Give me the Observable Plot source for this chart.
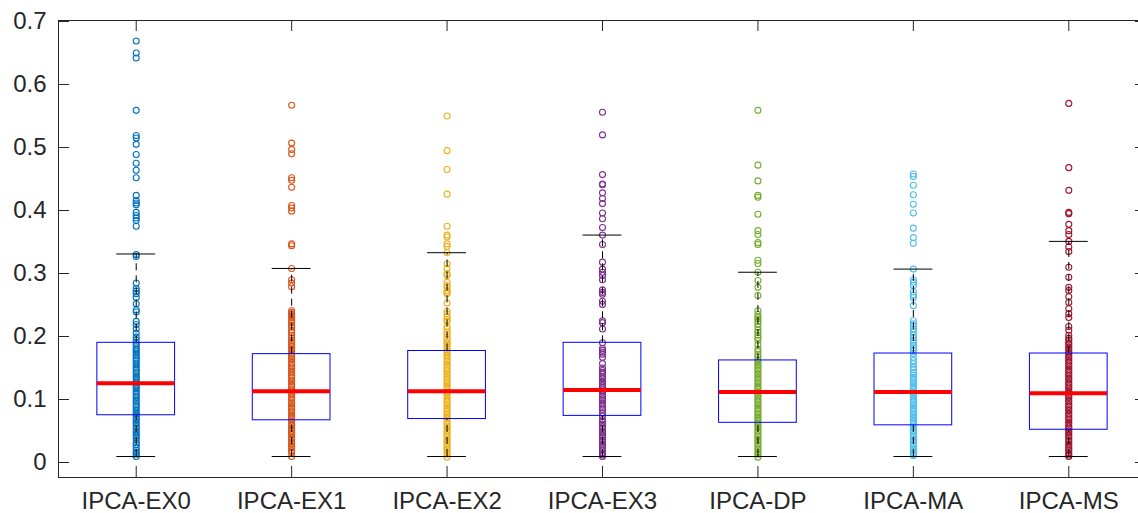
<!DOCTYPE html>
<html><head><meta charset="utf-8">
<script src="https://cdn.jsdelivr.net/npm/d3@7"></script>
<script src="https://cdn.jsdelivr.net/npm/@observablehq/plot@0.6"></script>
<style>body{margin:0;background:#fff;overflow:hidden} svg{display:block}</style>
</head><body><div id="chart"></div>
<script>
const names = ["IPCA-EX0","IPCA-EX1","IPCA-EX2","IPCA-EX3","IPCA-DP","IPCA-MA","IPCA-MS"];
const colors = ["#0072BD","#D95319","#EDB120","#7E2F8E","#77AC30","#4DBEEE","#A2142F"];
const median = [0.126, 0.113, 0.113, 0.115, 0.112, 0.112, 0.110];
const q1 = [0.075, 0.067, 0.069, 0.074, 0.063, 0.059, 0.052];
const q3 = [0.190, 0.172, 0.177, 0.190, 0.162, 0.173, 0.173];
const whiskerHi = [0.331, 0.308, 0.333, 0.361, 0.302, 0.307, 0.351];
const whiskerLo = [0.0095, 0.0095, 0.0095, 0.0095, 0.0095, 0.0095, 0.0095];
const yTicks = [0, 0.1, 0.2, 0.3, 0.4, 0.5, 0.6, 0.7];
const yTickLabels = ["0","0.1","0.2","0.3","0.4","0.5","0.6","0.7"];
const xTicks = [1, 2, 3, 4, 5, 6, 7];

const ex0 = [0.669,0.650,0.642,0.559,0.519,0.515,0.505,0.489,0.475,0.464,0.452,0.424,0.416,0.412,0.409,0.397,0.392,0.388,0.384,0.375,0.330,0.327,0.285,0.276,0.272,0.268,0.262,0.252,0.242,0.239,0.224,0.219,0.212,0.205,0.199,0.194,0.189,0.186,0.182,0.179,0.176,0.172,0.169,0.165,0.162,0.158,0.155,0.151,0.148,0.144,0.141,0.137,0.134,0.130,0.127,0.124,0.120,0.117,0.113,0.110,0.106,0.103,0.099,0.096,0.092,0.089,0.085,0.082,0.078,0.075,0.071,0.068,0.064,0.061,0.057,0.054,0.050,0.047,0.043,0.040,0.036,0.031,0.028,0.024,0.019,0.016,0.013,0.0095];
const ex1 = [0.567,0.507,0.497,0.490,0.452,0.448,0.437,0.408,0.404,0.399,0.347,0.344,0.308,0.290,0.285,0.279,0.241,0.238,0.236,0.233,0.230,0.226,0.222,0.218,0.215,0.210,0.206,0.202,0.198,0.194,0.191,0.187,0.184,0.180,0.177,0.173,0.170,0.166,0.163,0.159,0.156,0.152,0.149,0.145,0.142,0.138,0.135,0.131,0.128,0.124,0.121,0.117,0.114,0.110,0.107,0.103,0.100,0.096,0.093,0.089,0.086,0.082,0.079,0.075,0.072,0.068,0.065,0.061,0.058,0.054,0.051,0.047,0.044,0.040,0.037,0.033,0.030,0.026,0.023,0.019,0.016,0.0095];
const ex2 = [0.550,0.495,0.465,0.426,0.375,0.361,0.358,0.347,0.343,0.333,0.315,0.308,0.300,0.297,0.286,0.281,0.278,0.273,0.270,0.268,0.253,0.240,0.236,0.231,0.227,0.224,0.216,0.212,0.207,0.204,0.199,0.195,0.191,0.188,0.184,0.181,0.177,0.174,0.170,0.167,0.163,0.160,0.156,0.153,0.149,0.146,0.142,0.139,0.135,0.132,0.128,0.125,0.121,0.118,0.114,0.111,0.107,0.104,0.100,0.097,0.093,0.090,0.086,0.083,0.079,0.076,0.072,0.069,0.065,0.062,0.058,0.055,0.051,0.048,0.044,0.041,0.037,0.034,0.030,0.027,0.023,0.020,0.016,0.013,0.0085];
const ex3 = [0.556,0.520,0.457,0.442,0.441,0.428,0.419,0.411,0.396,0.387,0.373,0.361,0.346,0.318,0.307,0.302,0.297,0.290,0.274,0.270,0.267,0.256,0.251,0.225,0.222,0.212,0.190,0.181,0.178,0.175,0.172,0.167,0.157,0.150,0.146,0.143,0.140,0.136,0.133,0.129,0.126,0.122,0.119,0.115,0.112,0.108,0.105,0.101,0.098,0.094,0.091,0.087,0.084,0.079,0.074,0.068,0.064,0.061,0.057,0.054,0.050,0.047,0.043,0.040,0.036,0.033,0.029,0.026,0.022,0.019,0.015,0.012,0.0095];
const dp = [0.559,0.472,0.447,0.424,0.421,0.394,0.368,0.362,0.349,0.346,0.321,0.316,0.302,0.289,0.278,0.265,0.241,0.235,0.231,0.228,0.224,0.220,0.215,0.210,0.206,0.202,0.198,0.194,0.187,0.180,0.176,0.171,0.167,0.163,0.160,0.156,0.153,0.149,0.146,0.142,0.139,0.135,0.132,0.128,0.125,0.121,0.118,0.114,0.111,0.107,0.104,0.100,0.097,0.093,0.090,0.086,0.083,0.079,0.076,0.072,0.069,0.065,0.062,0.058,0.055,0.051,0.048,0.044,0.041,0.037,0.034,0.030,0.027,0.023,0.020,0.016,0.013,0.0085];
const ma = [0.458,0.454,0.440,0.425,0.410,0.396,0.372,0.357,0.348,0.307,0.290,0.286,0.281,0.271,0.266,0.262,0.249,0.225,0.220,0.216,0.212,0.207,0.202,0.198,0.194,0.190,0.186,0.182,0.178,0.173,0.167,0.162,0.157,0.151,0.147,0.143,0.139,0.135,0.132,0.128,0.125,0.121,0.118,0.114,0.111,0.107,0.104,0.100,0.097,0.093,0.090,0.086,0.083,0.079,0.076,0.072,0.069,0.065,0.062,0.058,0.055,0.051,0.048,0.044,0.041,0.037,0.034,0.030,0.027,0.023,0.020,0.016,0.013,0.011];
const ms = [0.570,0.468,0.432,0.397,0.395,0.378,0.368,0.362,0.351,0.342,0.335,0.310,0.294,0.278,0.273,0.263,0.254,0.244,0.236,0.230,0.216,0.210,0.202,0.197,0.194,0.190,0.187,0.183,0.180,0.176,0.173,0.169,0.166,0.162,0.159,0.155,0.152,0.148,0.145,0.141,0.138,0.134,0.131,0.127,0.124,0.120,0.117,0.113,0.110,0.106,0.103,0.099,0.096,0.092,0.089,0.085,0.082,0.078,0.075,0.071,0.068,0.064,0.061,0.057,0.054,0.050,0.047,0.043,0.040,0.036,0.033,0.029,0.026,0.022,0.019,0.015,0.012,0.0095];

const groups = [ex0, ex1, ex2, ex3, dp, ma, ms];
const points = groups.flatMap((vals, i) => vals.map(v => ({x: i + 1, v, g: names[i]})));
const stats = names.map((g, i) => ({x: i + 1, g, med: median[i], q1: q1[i], q3: q3[i], hi: whiskerHi[i], lo: whiskerLo[i]}));

const axisColor = "#262626";
const boxHalf = 0.25, capHalf = 0.125;

const chart = Plot.plot({
  width: 1138, height: 513,
  marginLeft: 58, marginRight: -8, marginTop: 20, marginBottom: 36,
  style: {fontFamily: "'Liberation Sans', Arial, sans-serif", fontSize: "24px", color: axisColor, background: "#fff"},
  x: {domain: [0.5, 7.5], axis: null},
  y: {domain: [-0.0238, 0.7016], axis: null},
  color: {type: "ordinal", domain: names, range: colors},
  marks: [
    Plot.dot(points, {x: "x", y: "v", stroke: "g", r: 3, strokeWidth: 1.1, fill: "none"}),
    Plot.ruleX(stats, {x: "x", y1: "q3", y2: "hi", stroke: "black", strokeDasharray: "7,5"}),
    Plot.ruleX(stats, {x: "x", y1: "lo", y2: "q1", stroke: "black", strokeDasharray: "7,5"}),
    Plot.rect(stats, {x1: d => d.x - boxHalf, x2: d => d.x + boxHalf, y1: "q1", y2: "q3", stroke: "#0000ff", fill: "none", strokeWidth: 1}),
    Plot.ruleY(stats, {y: "med", x1: d => d.x - boxHalf, x2: d => d.x + boxHalf, stroke: "#ff0000", strokeWidth: 4}),
    Plot.ruleY(stats, {y: "hi", x1: d => d.x - capHalf, x2: d => d.x + capHalf, stroke: "black"}),
    Plot.ruleY(stats, {y: "lo", x1: d => d.x - capHalf, x2: d => d.x + capHalf, stroke: "black"}),
    Plot.frame({stroke: axisColor}),
    Plot.ruleY(yTicks, {insetRight: 1077, stroke: axisColor}),
    Plot.ruleY(yTicks, {insetLeft: 1077, stroke: axisColor}),
    Plot.ruleX(xTicks, {insetTop: 446, stroke: axisColor}),
    Plot.ruleX(xTicks, {insetBottom: 446, stroke: axisColor}),
    Plot.axisY(yTicks, {anchor: "left", label: null, tickSize: 0, tickPadding: 12, tickFormat: (d, i) => yTickLabels[i]}),
    Plot.axisX(xTicks, {anchor: "bottom", label: null, tickSize: 0, tickPadding: 14, tickFormat: d => names[d - 1]})
  ]
});
document.getElementById("chart").append(chart);
</script>
</body></html>
